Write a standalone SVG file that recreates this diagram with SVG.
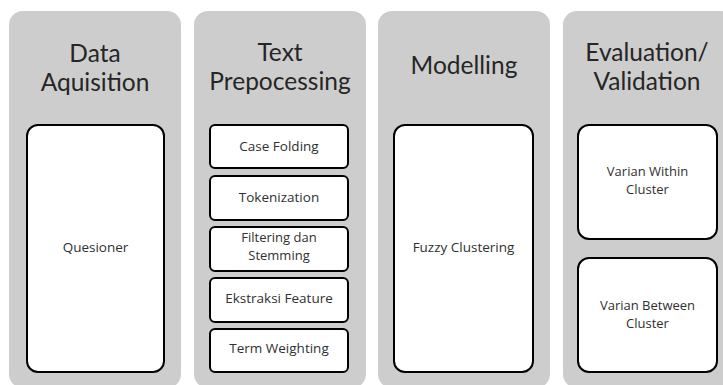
<svg xmlns="http://www.w3.org/2000/svg" width="723" height="385" viewBox="0 0 723 385">
<style>
.panel{fill:#cdcdcd;stroke:none}
.box{fill:#ffffff;stroke:#000000;stroke-width:2}
.title{font-family:Lato,"Open Sans","Liberation Sans",sans-serif;font-size:24.5px;fill:#262626;text-anchor:middle}
.lbl{font-family:"Open Sans","Liberation Sans",sans-serif;font-size:13.5px;fill:#303030;text-anchor:middle}
.lbl2{font-family:"Open Sans","Liberation Sans",sans-serif;font-size:13px;fill:#303030;text-anchor:middle}
</style>
<rect width="723" height="385" fill="#ffffff"/>
<g id="col-data-aquisition">
<rect class="panel" x="9" y="11" width="172" height="377" rx="14"/>
<text class="title" x="95" y="62">Data</text>
<text class="title" x="95" y="91">Aquisition</text>
</g>
<g id="node-quesioner">
<rect class="box" x="27" y="125" width="137" height="247" rx="11"/>
<text class="lbl" x="95.5" y="252">Quesioner</text>
</g>
<g id="col-text-prepocessing">
<rect class="panel" x="194" y="11" width="172" height="377" rx="14"/>
<text class="title" x="280" y="61">Text</text>
<text class="title" x="280" y="90">Prepocessing</text>
</g>
<g id="node-case-folding">
<rect class="box" x="210" y="125" width="138" height="43" rx="5"/>
<text class="lbl" x="279" y="151">Case Folding</text>
</g>
<g id="node-tokenization">
<rect class="box" x="210" y="176" width="138" height="44" rx="5"/>
<text class="lbl" x="279" y="202">Tokenization</text>
</g>
<g id="node-filtering">
<rect class="box" x="210" y="227" width="138" height="44" rx="5"/>
<text class="lbl2" x="279" y="242">Filtering dan</text>
<text class="lbl2" x="279" y="260">Stemming</text>
</g>
<g id="node-ekstraksi">
<rect class="box" x="210" y="278" width="138" height="44" rx="5"/>
<text class="lbl" x="279" y="303">Ekstraksi Feature</text>
</g>
<g id="node-term-weighting">
<rect class="box" x="210" y="329" width="138" height="43" rx="5"/>
<text class="lbl" x="279" y="353">Term Weighting</text>
</g>
<g id="col-modelling">
<rect class="panel" x="378" y="11" width="172" height="377" rx="14"/>
<text class="title" x="464" y="74">Modelling</text>
</g>
<g id="node-fuzzy-clustering">
<rect class="box" x="394" y="125" width="139" height="247" rx="11"/>
<text class="lbl" x="463.5" y="252">Fuzzy Clustering</text>
</g>
<g id="col-evaluation">
<rect class="panel" x="563" y="11" width="172" height="377" rx="14"/>
<text class="title" x="647" y="61">Evaluation/</text>
<text class="title" x="647" y="90">Validation</text>
</g>
<g id="node-varian-within">
<rect class="box" x="578" y="125" width="139" height="114" rx="11"/>
<text class="lbl2" x="647.5" y="176">Varian Within</text>
<text class="lbl2" x="647.5" y="194">Cluster</text>
</g>
<g id="node-varian-between">
<rect class="box" x="578" y="258" width="139" height="114" rx="11"/>
<text class="lbl2" x="647.5" y="310">Varian Between</text>
<text class="lbl2" x="647.5" y="328">Cluster</text>
</g>
<g id="connectors"></g>
</svg>
